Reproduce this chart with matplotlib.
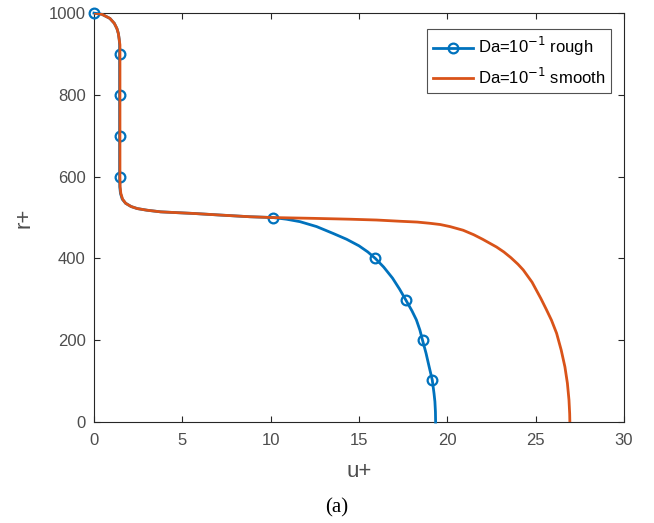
import matplotlib
matplotlib.use("Agg")
import matplotlib.pyplot as plt

# values
u_rough = [0, 0.45, 0.9, 1.15, 1.3, 1.38, 1.43, 1.45, 1.45, 1.45, 1.45, 1.45,
           1.46, 1.5, 1.6, 1.79, 2.1, 2.45, 3.0, 3.77, 4.7, 5.66, 7.2, 8.83,
           10.15, 10.9, 11.66, 12.6, 13.55, 14.3, 15.0, 15.5, 15.93, 16.4, 16.9, 17.3,
           17.66, 18.0, 18.25, 18.45, 18.6, 18.8, 18.97, 19.15, 19.25, 19.3, 19.33, 19.34]
r_rough = [1000, 997, 987, 975, 962, 950, 935, 922, 900, 800, 700, 600,
           575, 559, 545, 535, 527, 522, 518, 514, 512, 510, 506, 502,
           500, 496, 490, 478, 461, 447, 431, 416, 400, 379, 352, 325,
           298, 272, 250, 225, 200, 168, 136, 103, 70, 50, 25, 0]
rough_markers = [0, 8, 9, 10, 11, 24, 32, 36, 40, 43]

u_smooth = [0.06, 0.45, 0.9, 1.15, 1.3, 1.38, 1.43, 1.47, 1.47, 1.47,
            1.48, 1.52, 1.62, 1.79, 2.1, 2.45, 3.0, 3.77, 4.7, 5.66, 7.2, 8.83,
            10.15, 12.5, 14.49, 16.0, 17.32, 18.3, 19.02, 19.6, 20.15, 20.9, 21.5, 22.0,
            22.79, 23.2, 23.6, 24.0, 24.3, 24.8, 25.3, 25.6, 25.9, 26.19, 26.45, 26.66,
            26.8, 26.89, 26.93, 26.94]
r_smooth = [1000, 997, 987, 975, 962, 950, 935, 922, 800, 600,
            575, 559, 545, 535, 527, 522, 518, 514, 512, 510, 506, 502,
            500, 498, 496, 494, 491, 489, 486, 483, 478, 469, 458, 447,
            428, 416, 402, 386, 372, 342, 302, 276, 249, 217, 176, 135,
            95, 54, 20, 0]

x_ticks = [0, 5, 10, 15, 20, 25, 30]
y_ticks = [0, 200, 400, 600, 800, 1000]

plt.rcParams['font.family'] = ['Liberation Sans', 'DejaVu Sans']

fig = plt.figure(figsize=(6.54, 5.23), dpi=100)
ax = fig.add_axes([0.1437, 0.193, 0.8103, 0.782])

ax.plot(u_rough, r_rough, color='#0072BD', lw=2, marker='o', markersize=7,
        markerfacecolor='none', markeredgewidth=1.6, markevery=rough_markers,
        label='Da=10$^{-1}$ rough', clip_on=False, zorder=3)
ax.plot(u_smooth, r_smooth, color='#D95319', lw=2, label='Da=10$^{-1}$ smooth',
        zorder=4)

ax.set_xlim(0, 30)
ax.set_ylim(0, 1000)
ax.set_xticks(x_ticks)
ax.set_yticks(y_ticks)
ax.tick_params(direction='in', top=True, right=True, length=4, width=0.8,
               labelsize=12, colors='0.15', labelcolor='0.3')
ax.tick_params(axis='x', pad=8)
ax.tick_params(axis='y', pad=6)
for sp in ax.spines.values():
    sp.set_color('0.15')
    sp.set_linewidth(0.8)

ax.set_xlabel('u+', fontsize=16, color='0.3', labelpad=9)
ax.set_ylabel('r+', fontsize=16, color='0.3', labelpad=10)

leg = ax.legend(loc='upper right', bbox_to_anchor=(0.975, 0.96), fontsize=12,
                frameon=True, fancybox=False, handlelength=2.4, handletextpad=0.3,
                borderpad=0.35, labelspacing=0.5, borderaxespad=0)
leg.get_frame().set_edgecolor('0.15')
leg.get_frame().set_linewidth(0.8)

fig.text(0.515, 0.02, '(a)', fontsize=15, family='Liberation Serif', ha='center')

fig.savefig('out.png', dpi=100)
